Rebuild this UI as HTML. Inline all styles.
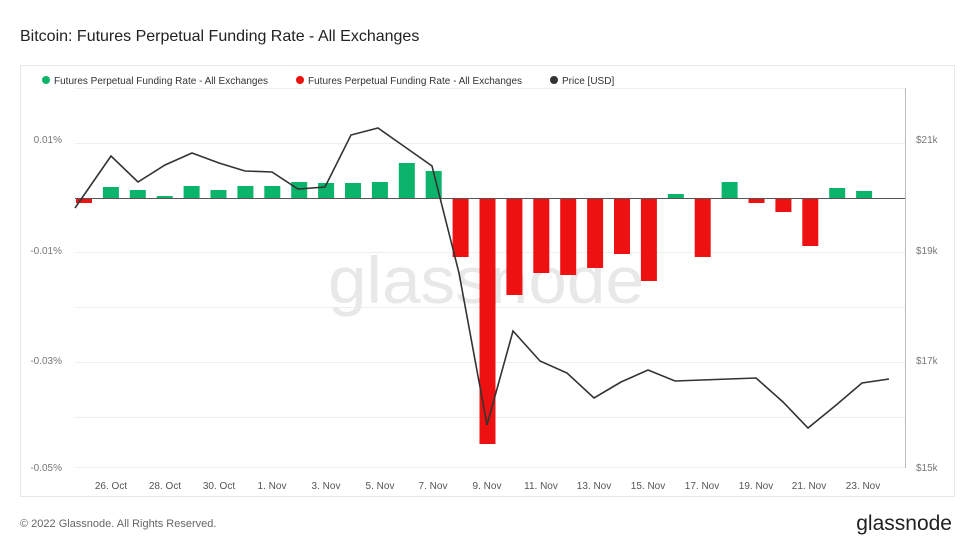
<!DOCTYPE html>
<html><head><meta charset="utf-8"><style>
body{margin:0;background:#fff;font-family:"Liberation Sans",sans-serif;}
</style></head><body>
<svg width="972" height="547" xmlns="http://www.w3.org/2000/svg" font-family="Liberation Sans, sans-serif">
<rect width="972" height="547" fill="#fff"/>
<text x="20" y="41" font-size="16" fill="#222">Bitcoin: Futures Perpetual Funding Rate - All Exchanges</text>
<rect x="20.5" y="65.5" width="934" height="431" fill="#fff" stroke="#e8e8e8"/>
<g font-size="10" fill="#333">
<circle cx="46" cy="80" r="4" fill="#0bb36b"/><text x="54" y="84">Futures Perpetual Funding Rate - All Exchanges</text>
<circle cx="300" cy="80" r="4" fill="#ee1111"/><text x="308" y="84">Futures Perpetual Funding Rate - All Exchanges</text>
<circle cx="554" cy="80" r="4" fill="#333"/><text x="562" y="84">Price [USD]</text>
</g>
<g stroke="#eeeeee" stroke-width="1">
<line x1="75" x2="905" y1="88.5" y2="88.5"/><line x1="75" x2="905" y1="143.5" y2="143.5"/>
<line x1="75" x2="905" y1="252.5" y2="252.5"/><line x1="75" x2="905" y1="307.5" y2="307.5"/>
<line x1="75" x2="905" y1="362.5" y2="362.5"/><line x1="75" x2="905" y1="417.5" y2="417.5"/>
<line x1="75" x2="905" y1="467.5" y2="467.5"/>
</g>
<line x1="905.5" x2="905.5" y1="88" y2="468" stroke="#bbb"/>
<text x="328" y="303" font-size="66" fill="#e8e8e8" textLength="316" lengthAdjust="spacingAndGlyphs">glassnode</text>
<g font-size="10" fill="#777">
<text x="62" y="143" text-anchor="end">0.01%</text>
<text x="62" y="254" text-anchor="end">-0.01%</text>
<text x="62" y="364" text-anchor="end">-0.03%</text>
<text x="62" y="471" text-anchor="end">-0.05%</text>
<text x="916" y="143">$21k</text><text x="916" y="254">$19k</text>
<text x="916" y="364">$17k</text><text x="916" y="471">$15k</text>
</g>
<g font-size="10" fill="#555" text-anchor="middle">
<text x="111" y="489">26. Oct</text><text x="165" y="489">28. Oct</text><text x="219" y="489">30. Oct</text>
<text x="272" y="489">1. Nov</text><text x="326" y="489">3. Nov</text><text x="380" y="489">5. Nov</text>
<text x="433" y="489">7. Nov</text><text x="487" y="489">9. Nov</text><text x="541" y="489">11. Nov</text>
<text x="594" y="489">13. Nov</text><text x="648" y="489">15. Nov</text><text x="702" y="489">17. Nov</text>
<text x="756" y="489">19. Nov</text><text x="809" y="489">21. Nov</text><text x="863" y="489">23. Nov</text>
</g>
<g fill="#0bb36b">
<rect x="102.9" y="187" width="16" height="11"/>
<rect x="129.8" y="190" width="16" height="8"/>
<rect x="156.7" y="196" width="16" height="2"/>
<rect x="183.6" y="186" width="16" height="12"/>
<rect x="210.5" y="190" width="16" height="8"/>
<rect x="237.4" y="186" width="16" height="12"/>
<rect x="264.3" y="186" width="16" height="12"/>
<rect x="291.2" y="182" width="16" height="16"/>
<rect x="318.1" y="183" width="16" height="15"/>
<rect x="345" y="183" width="16" height="15"/>
<rect x="371.9" y="182" width="16" height="16"/>
<rect x="398.8" y="163" width="16" height="35"/>
<rect x="425.7" y="171" width="16" height="27"/>
<rect x="667.8" y="194" width="16" height="4"/>
<rect x="721.6" y="182" width="16" height="16"/>
<rect x="829.2" y="188" width="16" height="10"/>
<rect x="856.1" y="191" width="16" height="7"/>
</g>
<g fill="#ee1111">
<rect x="76" y="198" width="16" height="5"/>
<rect x="452.6" y="198" width="16" height="59"/>
<rect x="479.5" y="198" width="16" height="246"/>
<rect x="506.4" y="198" width="16" height="97"/>
<rect x="533.3" y="198" width="16" height="75"/>
<rect x="560.2" y="198" width="16" height="77"/>
<rect x="587.1" y="198" width="16" height="70"/>
<rect x="614" y="198" width="16" height="56"/>
<rect x="640.9" y="198" width="16" height="83"/>
<rect x="694.7" y="198" width="16" height="59"/>
<rect x="748.5" y="198" width="16" height="5"/>
<rect x="775.4" y="198" width="16" height="14"/>
<rect x="802.3" y="198" width="16" height="48"/>
</g>
<line x1="75" x2="905" y1="198.5" y2="198.5" stroke="#555"/>
<polyline fill="none" stroke="#333" stroke-width="1.6" points="75,208 111,156 138,182 165,165 192,153 219,163 245,171 272,172 298,189 325,187 351,135 378,128 405,147 432,166 459,273 487,425 513,331 540,361 567,373 594,398 621,382 648,370 675,381 702,380 729,379 756,378 783,402 808,428 835,406 862,383 889,379"/>
<text x="20" y="527" font-size="11" fill="#666">© 2022 Glassnode. All Rights Reserved.</text>
<text x="952" y="530" font-size="21" fill="#222" text-anchor="end">glassnode</text>
</svg>
</body></html>
